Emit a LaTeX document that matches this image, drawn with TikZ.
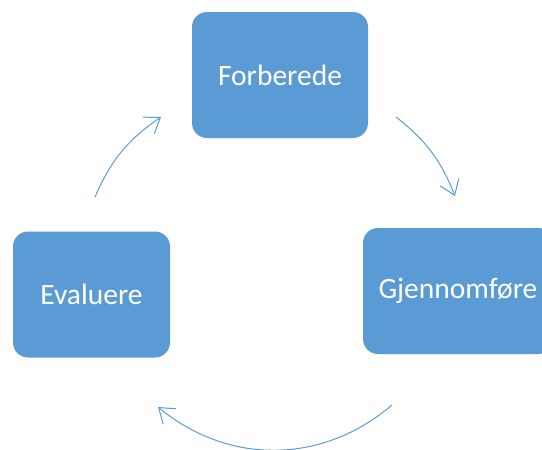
\documentclass[tikz,border=0pt]{standalone}
\usepackage{fontspec}
\setmainfont{Carlito}
\usetikzlibrary{arrows.meta}
\definecolor{phaseblue}{HTML}{5B9BD5}
\begin{document}
\begin{tikzpicture}[x=1pt,y=-1pt,>={Straight Barb[length=14pt,width=20pt]},
  phase/.style={fill=phaseblue,rounded corners=15pt,text=white,font=\fontsize{29.5}{33}\selectfont,minimum height=126pt},
  cyc/.style={->,phaseblue,line width=1pt}]
\useasboundingbox (0,0) rectangle (542,450);
\node[phase,minimum width=176pt] (forb) at (280,75){Forberede};
\node[phase,minimum width=190pt] (gjen) at (458,291){Gjennomføre};
\node[phase,minimum width=157pt] (eval) at (91.5,294.5){Evaluere};
% arcs between the phases
\coordinate (e1) at (95,197); \coordinate (f1) at (161,117);
\coordinate (f2) at (396,117); \coordinate (g1) at (455,196);
\coordinate (g2) at (392,405); \coordinate (e2) at (158,407);
\draw[cyc] (e1) to[bend left=16] (f1);
\draw[cyc] (f2) to[bend left=15] (g1);
\draw[cyc] (g2) to[bend left=40] (e2);
\end{tikzpicture}
\end{document}
